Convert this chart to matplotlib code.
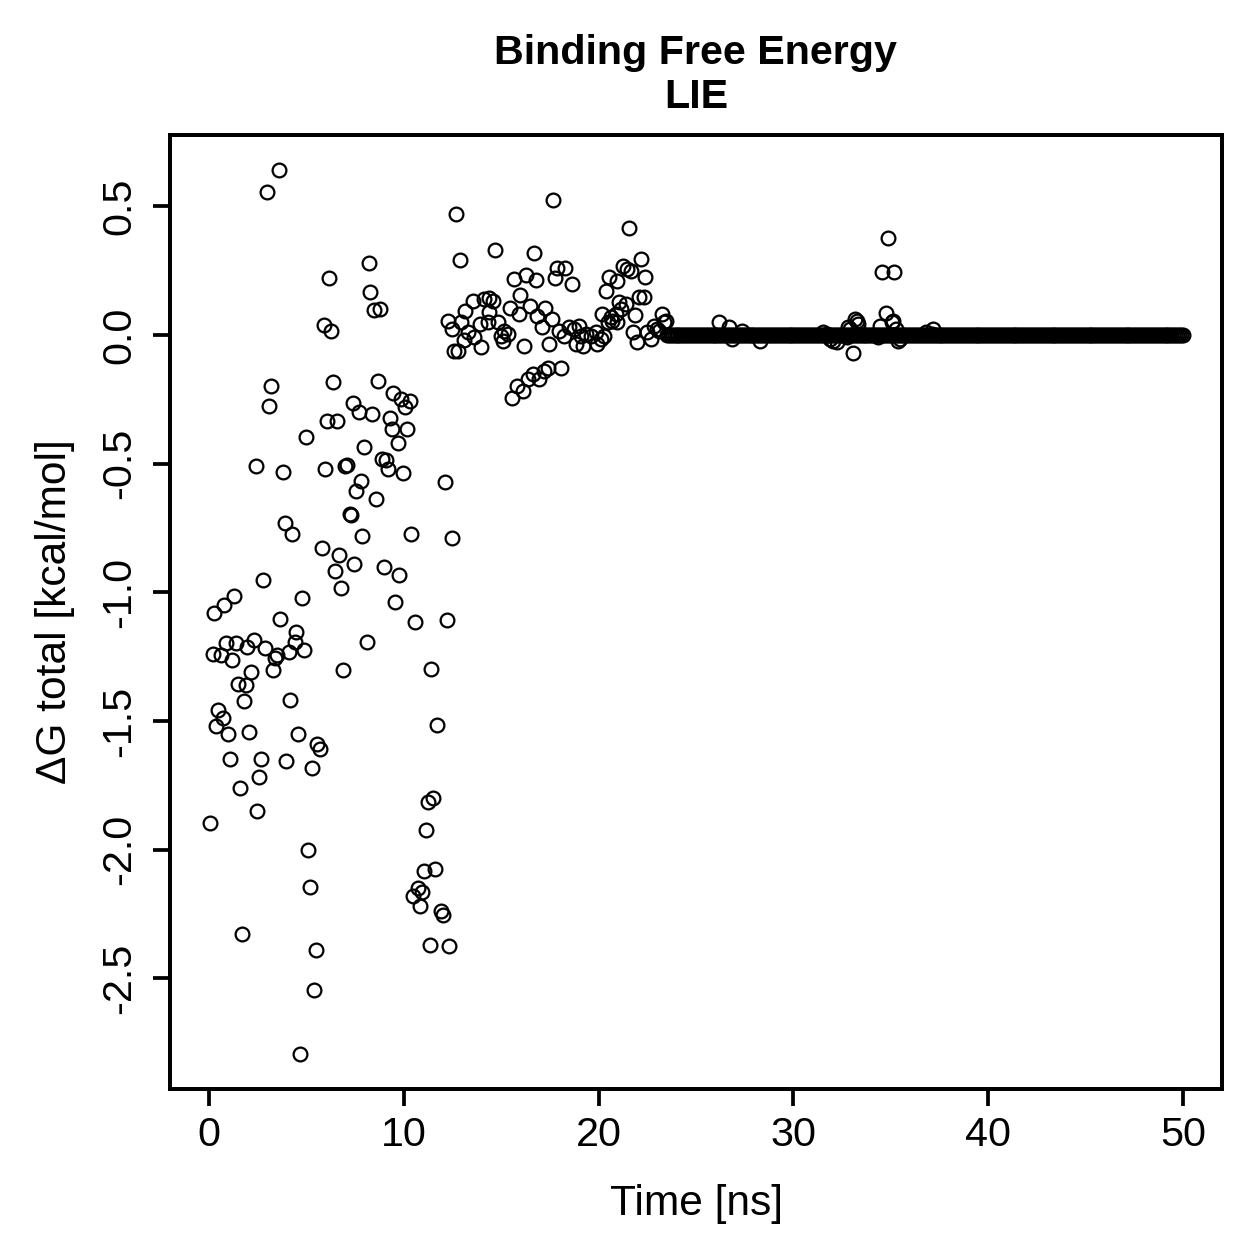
import numpy as np
import matplotlib
matplotlib.use('Agg')
import matplotlib.pyplot as plt

plt.rcParams['font.family'] = ['Liberation Sans', 'DejaVu Sans']
plt.rcParams['axes.unicode_minus'] = False

# scattered part of the run (time in ns, dG in kcal/mol)
t_early = [0.07, 0.19, 0.27, 0.37, 0.48, 0.61, 0.70, 0.78, 0.89, 0.97,
           1.09, 1.19, 1.28, 1.40, 1.47, 1.59, 1.69, 1.78, 1.89, 1.96,
           2.08, 2.18, 2.29, 2.39, 2.47, 2.58, 2.68, 2.78, 2.88, 2.98,
           3.09, 3.17, 3.28, 3.39, 3.48, 3.60, 3.67, 3.79, 3.89, 3.98,
           4.09, 4.18, 4.28, 4.40, 4.49, 4.57, 4.67, 4.79, 4.90, 4.98,
           5.08, 5.18, 5.27, 5.39, 5.49, 5.56, 5.68, 5.78, 5.89, 5.97,
           6.05, 6.18, 6.28, 6.38, 6.48, 6.59, 6.69, 6.79, 6.89, 7.00,
           7.11, 7.23, 7.28, 7.39, 7.47, 7.57, 7.68, 7.79, 7.88, 7.98,
           8.09, 8.19, 8.29, 8.38, 8.48, 8.58, 8.66, 8.79, 8.87, 8.97,
           9.11, 9.18, 9.28, 9.37, 9.47, 9.57, 9.69, 9.77, 9.88, 9.98,
           10.05, 10.18, 10.30, 10.37, 10.47, 10.58, 10.72, 10.83, 10.96, 11.03,
           11.15, 11.25, 11.35, 11.42, 11.50, 11.60, 11.68, 11.90, 12.02, 12.10,
           12.20, 12.30, 12.45,
           12.27, 12.49, 12.60, 12.68, 12.78, 12.88, 12.95, 13.09, 13.15, 13.29,
           13.55, 13.63, 13.89, 13.98, 14.14, 14.31, 14.37, 14.40, 14.57, 14.67,
           14.83, 14.99, 15.08, 15.16, 15.34, 15.44, 15.54, 15.66, 15.82, 15.90,
           15.97, 16.10, 16.17, 16.27, 16.36, 16.46, 16.62, 16.68, 16.79, 16.84,
           16.96, 17.08, 17.21, 17.25, 17.42, 17.47, 17.59, 17.66, 17.76, 17.86,
           17.98, 18.07, 18.24, 18.29, 18.50, 18.66, 18.75, 18.85, 19.00, 19.09,
           19.20, 19.35, 19.60, 19.86, 19.94, 20.11, 20.20, 20.29, 20.37, 20.46,
           20.54, 20.62, 20.71, 20.88, 20.92, 20.97, 21.05, 21.13, 21.26, 21.39,
           21.48, 21.56, 21.68, 21.77, 21.85, 21.99, 22.07, 22.16, 22.33, 22.36,
           22.50, 22.67, 22.84, 23.01, 23.10, 23.27, 23.35, 23.44]
dg_early = [-1.895, -1.240, -1.081, -1.521, -1.456, -1.245, -1.490, -1.049, -1.197, -1.550,
            -1.646, -1.262, -1.014, -1.197, -1.355, -1.761, -2.327, -1.424, -1.359, -1.211,
            -1.543, -1.310, -1.187, -0.511, -1.848, -1.717, -1.648, -0.951, -1.215, 0.554,
            -0.276, -0.197, -1.302, -1.255, -1.242, 0.640, -1.103, -0.531, -0.732, -1.654,
            -1.231, -1.419, -0.774, -1.195, -1.154, -1.550, -2.793, -1.023, -1.225, -0.395,
            -2.000, -2.147, -1.681, -2.547, -2.392, -1.590, -1.610, -0.827, 0.040, -0.521,
            -0.336, 0.222, 0.014, -0.182, -0.918, -0.336, -0.856, -0.983, -1.300, -0.511,
            -0.506, -0.697, -0.700, -0.265, -0.889, -0.606, -0.300, -0.567, -0.783, -0.435,
            -1.195, 0.280, 0.166, -0.308, 0.096, -0.639, -0.180, 0.100, -0.480, -0.903,
            -0.486, -0.522, -0.324, -0.366, -0.227, -1.036, -0.418, -0.933, -0.249, -0.536,
            -0.280, -0.366, -0.256, -0.775, -2.180, -1.115, -2.150, -2.220, -2.165, -2.085,
            -1.925, -1.815, -2.370, -1.297, -1.800, -2.075, -1.515, -2.240, -2.255, -0.572,
            -1.108, -2.375, -0.788,
            0.056, 0.023, -0.061, 0.472, -0.061, 0.292, 0.049, -0.019, 0.095, 0.010,
            0.132, -0.009, 0.043, -0.048, 0.140, 0.049, 0.088, 0.143, 0.134, 0.332,
            0.049, -0.003, -0.022, 0.017, 0.004, 0.105, -0.245, 0.218, -0.200, 0.082,
            0.157, -0.217, -0.044, 0.232, -0.171, 0.114, -0.152, 0.317, 0.215, 0.075,
            -0.171, 0.030, -0.139, 0.105, -0.130, -0.034, 0.063, 0.526, 0.221, 0.260,
            0.017, -0.128, -0.003, 0.261, 0.030, 0.200, 0.023, -0.035, 0.036, -0.003,
            -0.042, 0.004, -0.003, 0.010, -0.035, -0.016, 0.082, -0.003, 0.172, 0.049,
            0.226, 0.069, 0.056, 0.082, 0.209, 0.049, 0.127, 0.101, 0.270, 0.121,
            0.257, 0.417, 0.248, 0.013, 0.078, -0.029, 0.147, 0.296, 0.147, 0.225,
            0.010, -0.016, 0.036, 0.023, 0.017, 0.082, 0.049, 0.056]

# small excursions on the converged part
t_bump = [26.17, 26.68, 26.85, 27.36, 28.30, 31.54, 31.71, 31.88, 32.05, 32.23,
          32.74, 32.82, 32.91, 33.04, 33.16, 33.25, 33.33, 34.35, 34.44, 34.53,
          34.75, 34.87, 35.04, 35.12, 35.16, 35.29, 35.38, 35.47, 36.83, 37.09, 37.17]
dg_bump = [0.052, 0.030, -0.016, 0.017, -0.022, 0.010, 0.004, -0.016, -0.022, -0.028,
           -0.009, 0.030, 0.023, -0.068, 0.062, 0.056, 0.043, -0.009, 0.036, 0.244,
           0.085, 0.378, 0.049, 0.056, 0.244, 0.023, -0.022, -0.016, 0.010, 0.004, 0.023]

# converged part: every frame (0.1 ns) sits at 0
t_flat = np.arange(23.5, 50.001, 0.1)
dg_flat = np.zeros(len(t_flat))

t = np.concatenate((t_early, t_flat, t_bump))
dg = np.concatenate((dg_early, dg_flat, dg_bump))

fig = plt.figure(figsize=(1259/180, 1259/180), dpi=180)
ax = fig.add_axes([170/1259, 1 - 1089/1259, (1222-170)/1259, (1089-135)/1259])

ax.plot(t, dg, 'o', mfc='none', mec='black', ms=5.5, mew=0.9)

pad = 0.04*(dg.max() - dg.min())
ax.set_xlim(-2, 52)
ax.set_ylim(dg.min() - pad, dg.max() + pad)

ax.set_xticks([0, 10, 20, 30, 40, 50])
yt = [0.5, 0.0, -0.5, -1.0, -1.5, -2.0, -2.5]
ax.set_yticks(yt)
ax.set_yticklabels(['%.1f' % v for v in yt], rotation=90, va='center')
ax.tick_params(direction='out', length=6.8, width=1.5, labelsize=16.5, pad=4)
ax.tick_params(axis='y', pad=6)
for s in ax.spines.values():
    s.set_linewidth(1.6)

ax.set_xlabel('Time [ns]', fontsize=17, labelpad=12)
ax.set_ylabel('\u0394G total [kcal/mol]', fontsize=17, labelpad=10)
ax.set_title('Binding Free Energy\nLIE', fontsize=16.5, fontweight='bold', pad=11)

plt.savefig('out.png', dpi=180)
